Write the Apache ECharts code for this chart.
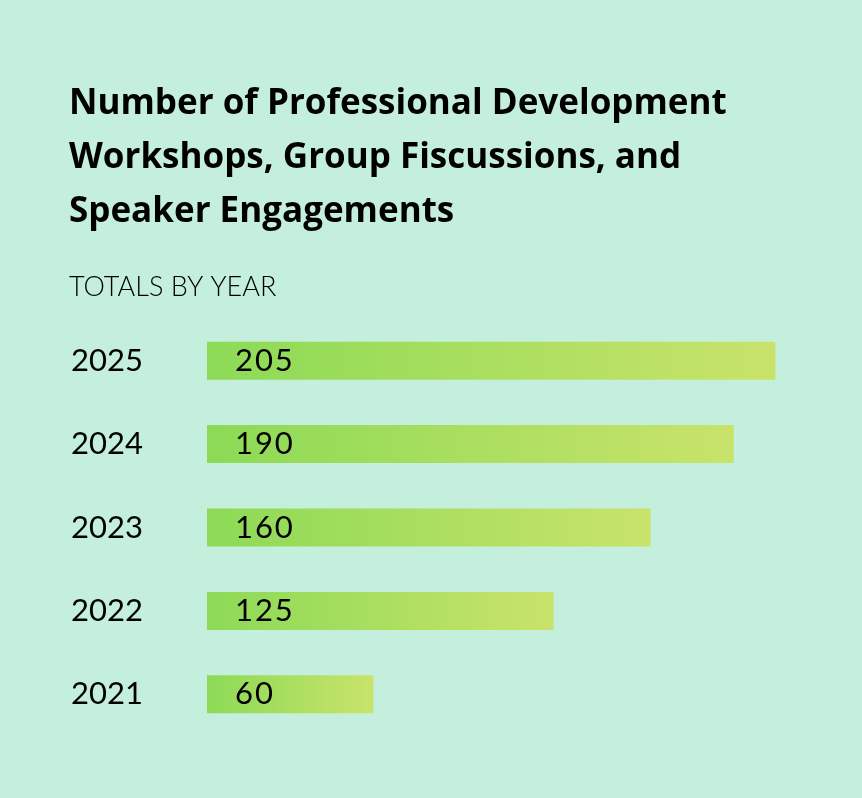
<!DOCTYPE html>
<html>
<head>
<meta charset="utf-8">
<script src="https://cdn.jsdelivr.net/npm/echarts@6/dist/echarts.min.js"></script>
<style>
  html, body { margin: 0; padding: 0; background: #c4efdc; }
  #chart { width: 862px; height: 798px; }
</style>
</head>
<body>
<div id="chart"></div>
<script>
  // 数据
  var years = ['2025', '2024', '2023', '2022', '2021'];
  var totals = [205, 190, 160, 125, 60];

  var option = {
    backgroundColor: '#c4efdc',
    title: [
      {
        text: 'Number of Professional Development\nWorkshops, Group Fiscussions, and\nSpeaker Engagements',
        left: 64,
        top: 72,
        textStyle: {
          fontFamily: 'Open Sans',
          fontWeight: 'bold',
          fontSize: 35,
          lineHeight: 54,
          color: '#000'
        }
      },
      {
        text: 'TOTALS BY YEAR',
        left: 64,
        top: 269,
        textStyle: {
          fontFamily: 'Lato',
          fontWeight: 300,
          fontSize: 27,
          color: '#000'
        }
      }
    ],
    grid: {
      left: 207,
      right: 45,
      top: 319,
      bottom: 62
    },
    xAxis: {
      type: 'value',
      min: 0,
      max: 220,
      show: false
    },
    yAxis: {
      type: 'category',
      inverse: true,
      data: years,
      axisLine: { show: false },
      axisTick: { show: false },
      splitLine: { show: false },
      axisLabel: {
        align: 'left',
        margin: 136,
        fontFamily: 'Lato',
        fontSize: 31,
        color: '#000'
      }
    },
    series: [
      {
        type: 'bar',
        data: totals,
        barWidth: 38,
        itemStyle: {
          color: new echarts.graphic.LinearGradient(0, 0, 1, 0, [
            { offset: 0, color: '#8cda56' },
            { offset: 1, color: '#c9e36a' }
          ])
        },
        label: {
          show: true,
          position: 'insideLeft',
          distance: 28,
          fontFamily: 'Lato',
          fontSize: 31,
          color: '#000',
          // 数字间稍加间距
          formatter: function (p) {
            return String(p.value).split('').join('\u200a');
          }
        }
      }
    ]
  };

  echarts.init(document.getElementById('chart')).setOption(option);
</script>
</body>
</html>
